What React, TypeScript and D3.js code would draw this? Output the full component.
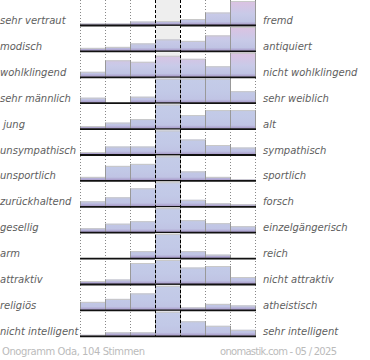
import React, { useEffect, useRef } from 'react';
import * as d3 from 'd3';

// Gegensatzpaare (links / rechts)
const leftLabels = [
  'sehr vertraut', 'modisch', 'wohlklingend', 'sehr männlich', ' jung',
  'unsympathisch', 'unsportlich', 'zurückhaltend', 'gesellig', 'arm',
  'attraktiv', 'religiös', 'nicht intelligent',
];
const rightLabels = [
  'fremd', 'antiquiert', 'nicht wohlklingend', 'sehr weiblich', 'alt',
  'sympathisch', 'sportlich', 'forsch', 'einzelgängerisch', 'reich',
  'nicht attraktiv', 'atheistisch', 'sehr intelligent',
];

// 7 Stufen pro Zeile, relative Stimmenanteile (24 = volle Zeilenhöhe, Werte darüber abgeschnitten)
const row01 = [1.5, 1.5, 3.5, 4, 6, 12.5, 24];
const row02 = [3, 4, 7.5, 11.5, 10, 15.5, 26];
const row03 = [5, 16.5, 15, 21, 18, 10.5, 26];
const row04 = [5, 0, 6, 26, 26, 26, 11.5];
const row05 = [2.5, 6, 9.5, 28, 13.5, 18.5, 18.5];
const row06 = [2.5, 8, 8, 28, 15, 9.5, 7];
const row07 = [3.5, 14.5, 16.5, 28, 9, 3.5, 1];
const row08 = [5, 9, 18, 30, 6.5, 3, 2];
const row09 = [4, 8.5, 11, 30, 12, 9, 6];
const row10 = [0, 0, 7, 34, 7, 3.5, 0];
const row11 = [3, 4.5, 21, 28, 16.5, 18, 7];
const row12 = [8, 11, 16.5, 30, 2.5, 6, 4.5];
const row13 = [1, 3.5, 3.5, 30, 14.5, 10, 6];
const rows = [row01, row02, row03, row04, row05, row06, row07, row08, row09, row10, row11, row12, row13];

const footerLeft = 'Onogramm Oda, 104 Stimmen';
const footerRight = 'onomastik.com - 05 / 2025';

const App = () => {
  const svgRef = useRef<SVGSVGElement>(null);

  useEffect(() => {
    const svg = d3.select(svgRef.current);
    svg.selectAll('*').remove();
    const font = '"DejaVu Sans", Verdana, sans-serif';

    const steps = d3.range(7);
    const x = d3.scaleBand<number>().domain(steps).range([80, 255]);
    const y = d3.scaleBand<number>().domain(d3.range(rows.length)).range([0, 25.9 * rows.length]);
    const h = d3.scaleLinear().domain([0, 24]).range([0, 24]).clamp(true);
    const base = (i: number) => (y(i) as number) + y.step() - 0.9;

    const defs = svg.append('defs');

    // Grid (dotted)
    [80, 105, 130, 205, 230, 255].forEach((gx) => {
      svg.append('line').attr('x1', gx + 0.5).attr('x2', gx + 0.5)
        .attr('y1', 0).attr('y2', base(rows.length - 1))
        .attr('stroke', '#888').attr('stroke-dasharray', '1,2');
    });

    rows.forEach((vals, i) => {
      const b = base(i);
      const top = b - 24;
      const pink = d3.maxIndex(vals) !== 3;
      const gid = `grad${i}`;
      const grad = defs.append('linearGradient').attr('id', gid)
        .attr('gradientUnits', 'userSpaceOnUse')
        .attr('x1', 0).attr('x2', 0).attr('y1', top).attr('y2', b);
      grad.append('stop').attr('offset', '0%').attr('stop-color', pink ? '#dcc2e2' : '#c4cce8');
      grad.append('stop').attr('offset', '55%').attr('stop-color', pink ? '#c8cae8' : '#c2c9e7');
      grad.append('stop').attr('offset', '86%').attr('stop-color', '#c0c4e4');
      grad.append('stop').attr('offset', '100%').attr('stop-color', '#a696c6');

      // neutral column background
      svg.append('rect').attr('x', x(3) as number).attr('y', y(i) as number)
        .attr('width', x.bandwidth()).attr('height', b - (y(i) as number))
        .attr('fill', '#eeeeee');

      const bars = vals.map((v, j) => ({ v, j })).filter((d) => d.v > 0);
      const g = svg.append('g');
      g.selectAll('rect').data(bars).enter().append('rect')
        .attr('x', (d) => x(d.j) as number)
        .attr('y', (d) => b - h(d.v))
        .attr('width', x.bandwidth())
        .attr('height', (d) => h(d.v))
        .attr('fill', `url(#${gid})`);
      g.selectAll('line.top').data(bars).enter().append('line')
        .attr('class', 'top')
        .attr('x1', (d) => x(d.j) as number).attr('x2', (d) => (x(d.j) as number) + x.bandwidth())
        .attr('y1', (d) => b - h(d.v) + 0.5).attr('y2', (d) => b - h(d.v) + 0.5)
        .attr('stroke', '#c8c8c8');
      bars.forEach((d) => {
        [x(d.j) as number, (x(d.j) as number) + x.bandwidth()].forEach((sx) => {
          g.append('line').attr('x1', sx + 0.5).attr('x2', sx + 0.5)
            .attr('y1', b - h(d.v)).attr('y2', b)
            .attr('stroke', '#999');
        });
      });

      // baseline
      svg.append('line').attr('x1', 80).attr('x2', 256)
        .attr('y1', b + 0.5).attr('y2', b + 0.5)
        .attr('stroke', '#111').attr('stroke-width', 1.8);

      svg.append('text').attr('x', 0).attr('y', b - 1)
        .style('white-space', 'pre')
        .attr('font-family', font).attr('font-size', 10).attr('font-style', 'italic')
        .attr('fill', '#5e5e5e').text(leftLabels[i]);
      svg.append('text').attr('x', 263).attr('y', b - 1)
        .attr('font-family', font).attr('font-size', 10).attr('font-style', 'italic')
        .attr('fill', '#5e5e5e').text(rightLabels[i]);
    });

    // dashed neutral borders
    [155, 180].forEach((gx) => {
      svg.append('line').attr('x1', gx + 0.5).attr('x2', gx + 0.5)
        .attr('y1', 0).attr('y2', base(rows.length - 1))
        .attr('stroke', '#000').attr('stroke-dasharray', '3,2');
    });

    svg.append('text').attr('x', 2).attr('y', 355)
      .attr('textLength', 143).attr('lengthAdjust', 'spacing')
      .attr('font-family', font).attr('font-size', 10).attr('fill', '#bbb').text(footerLeft);
    svg.append('text').attr('x', 220).attr('y', 355)
      .attr('textLength', 117).attr('lengthAdjust', 'spacing')
      .attr('font-family', font).attr('font-size', 10).attr('fill', '#bbb').text(footerRight);
  }, []);

  return (
    <div style={{ position: 'fixed', left: 0, top: 0, background: '#fff' }}>
      <svg ref={svgRef} width={370} height={360} style={{ display: 'block' }} />
    </div>
  );
};

export default App;
